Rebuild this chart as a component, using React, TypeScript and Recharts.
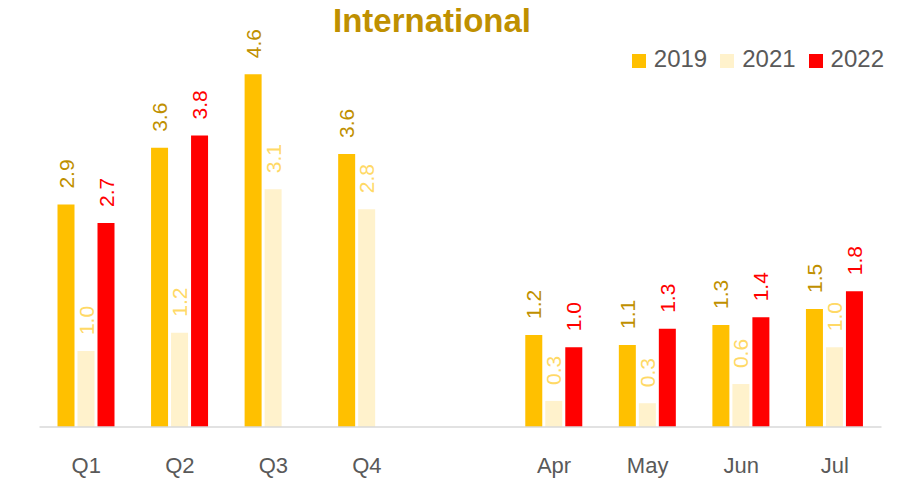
import { BarChart, Bar, XAxis, YAxis, LabelList } from 'recharts';

const categories = ['Q1', 'Q2', 'Q3', 'Q4', '', 'Apr', 'May', 'Jun', 'Jul'];
const values2019 = [2.9, 3.64, 4.6, 3.56, null, 1.2, 1.07, 1.33, 1.54];
const values2021 = [0.99, 1.23, 3.1, 2.84, null, 0.34, 0.31, 0.56, 1.04];
const values2022 = [2.66, 3.8, null, null, null, 1.04, 1.28, 1.43, 1.77];

const seriesNames = ['2019', '2021', '2022'];
const barColors = ['#FFC000', '#FFF2CC', '#FF0000'];
const labelColors = ['#BF9000', '#FFD966', '#FF0000'];

const data = categories.map((name, i) => ({
  name,
  y2019: values2019[i],
  y2021: values2021[i],
  y2022: values2022[i],
}));

const FONT = '"Liberation Sans", Arial, sans-serif';

function makeLabel(color: string) {
  return (props: any) => {
    const { x, y, width, value } = props;
    if (value == null) return null;
    const cx = Number(x) + Number(width) / 2;
    const cy = Number(y) - 16;
    return (
      <text
        x={cx}
        y={cy}
        transform={`rotate(-90, ${cx}, ${cy})`}
        textAnchor="start"
        dy="0.36em"
        fill={color}
        fontSize={21}
        fontFamily={FONT}
      >
        {Number(value).toFixed(1)}
      </text>
    );
  };
}

function LegendBox() {
  return (
    <div
      style={{
        position: 'absolute',
        top: 47,
        right: 32,
        display: 'flex',
        alignItems: 'center',
        fontFamily: FONT,
      }}
    >
      {seriesNames.map((s, i) => (
        <div key={s} style={{ display: 'flex', alignItems: 'center', marginLeft: i === 0 ? 0 : 13 }}>
          <span style={{ width: 14, height: 14, background: barColors[i], display: 'inline-block', marginRight: 8, marginTop: 4 }} />
          <span style={{ fontSize: 24, lineHeight: '24px', color: '#595959' }}>{s}</span>
        </div>
      ))}
    </div>
  );
}

export default function App() {
  return (
    <div style={{ position: 'absolute', left: 0, top: 0, width: 916, height: 480, background: '#fff', fontFamily: FONT }}>
      <div
        style={{
          position: 'absolute',
          left: 0,
          top: 4,
          width: 864,
          textAlign: 'center',
          fontSize: 33,
          lineHeight: '33px',
          fontWeight: 'bold',
          color: '#BF9000',
        }}
      >
        International
      </div>
      <BarChart
        width={916}
        height={480}
        data={data}
        margin={{ top: 43.5, right: 34.5, left: 39.5, bottom: 23 }}
        barSize={17}
        barGap={3}
      >
        <YAxis hide domain={[0, 5]} />
        <XAxis
          dataKey="name"
          axisLine={{ stroke: '#D9D9D9', strokeWidth: 1.5 }}
          tickLine={false}
          tickSize={0}
          tickMargin={30}
          tick={{ fill: '#595959', fontSize: 22, fontFamily: FONT }}
          interval={0}
        />
        <Bar dataKey="y2019" name="2019" fill={barColors[0]} isAnimationActive={false}>
          <LabelList dataKey="y2019" content={makeLabel(labelColors[0])} />
        </Bar>
        <Bar dataKey="y2021" name="2021" fill={barColors[1]} isAnimationActive={false}>
          <LabelList dataKey="y2021" content={makeLabel(labelColors[1])} />
        </Bar>
        <Bar dataKey="y2022" name="2022" fill={barColors[2]} isAnimationActive={false}>
          <LabelList dataKey="y2022" content={makeLabel(labelColors[2])} />
        </Bar>
      </BarChart>
      <LegendBox />
    </div>
  );
}
